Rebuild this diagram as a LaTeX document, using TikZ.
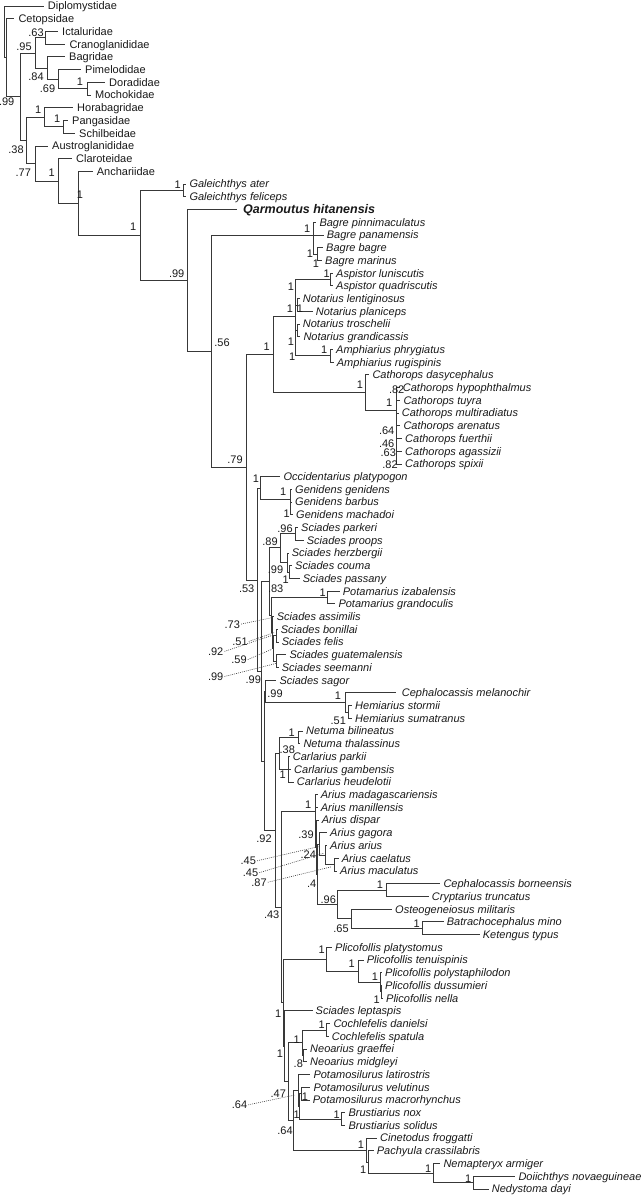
\documentclass[tikz,border=0pt]{standalone}
\usepackage{fontspec}
\setmainfont{Liberation Sans}
\newcommand\tleaf[5][3]{%
  \coordinate (#2) at ({#4-#1},#3);
  \node[lf] (#2t) at (#4,#3) {#5};}
\newcommand\inode[3]{\coordinate (#1) at (#2,#3);}
\newcommand\kids[2]{\foreach \kk in {#2}{\draw[br] (#1) |- (\kk);}}
\begin{document}
\begin{tikzpicture}[x=1pt,y=-1pt,
  br/.style={draw=black!78, line width=0.8pt},
  lf/.style={anchor=base west, inner sep=0pt, yshift=-3.9pt, font=\fontsize{11}{13}\selectfont\itshape, text=black!90},
  bval/.style={font=\fontsize{11}{13}\selectfont, inner sep=0pt, text=black!90},
  dotl/.style={draw=black!75, line width=0.6pt, dash pattern=on 0.9pt off 1.1pt, shorten <=1pt}]
\path[use as bounding box] (0,0) rectangle (643,1199);
\begin{scope}[y=-12.72pt, yshift=-6pt]
% ---------- leaves ----------
\tleaf[4]{t0}{0}{47.7}{\upshape Diplomystidae}
\tleaf[4]{t1}{1}{18.3}{\upshape Cetopsidae}
\tleaf[4]{t2}{2}{62}{\upshape Ictaluridae}
\tleaf[4]{t3}{3}{69.3}{\upshape Cranoglanididae}
\tleaf[4]{t4}{4}{69}{\upshape Bagridae}
\tleaf[4]{t5}{5}{85}{\upshape Pimelodidae}
\tleaf[4]{t6}{6}{109}{\upshape Doradidae}
\tleaf[4]{t7}{7}{95}{\upshape Mochokidae}
\tleaf[4]{t8}{8}{77}{\upshape Horabagridae}
\tleaf[4]{t9}{9}{72}{\upshape Pangasidae}
\tleaf[4]{t10}{10}{79}{\upshape Schilbeidae}
\tleaf[4]{t11}{11}{52}{\upshape Austroglanididae}
\tleaf[4]{t12}{12}{76}{\upshape Claroteidae}
\tleaf[4]{t13}{13}{96.7}{\upshape Anchariidae}
\tleaf{t14}{14}{189.3}{Galeichthys ater}
\tleaf{t15}{15}{189.3}{Galeichthys feliceps}
\tleaf[6]{t16}{16}{243}{\bfseries\fontsize{12.5}{14}\selectfont Qarmoutus hitanensis}
\tleaf{t17}{17}{319.3}{Bagre pinnimaculatus}
\tleaf{t18}{18}{326.7}{Bagre panamensis}
\tleaf{t19}{19}{326}{Bagre bagre}
\tleaf{t20}{20}{325}{Bagre marinus}
\tleaf{t21}{21}{336}{Aspistor luniscutis}
\tleaf{t22}{22}{336}{Aspistor quadriscutis}
\tleaf{t23}{23}{302.7}{Notarius lentiginosus}
\tleaf{t24}{24}{315.7}{Notarius planiceps}
\tleaf{t25}{25}{302.7}{Notarius troschelii}
\tleaf{t26}{26}{303.3}{Notarius grandicassis}
\tleaf{t27}{27}{336}{Amphiarius phrygiatus}
\tleaf{t28}{28}{336.7}{Amphiarius rugispinis}
\tleaf{t29}{29}{372.3}{Cathorops dasycephalus}
\tleaf{t30}{30}{402.7}{Cathorops hypophthalmus}
\tleaf{t31}{31}{403.3}{Cathorops tuyra}
\tleaf{t32}{32}{401.7}{Cathorops multiradiatus}
\tleaf{t33}{33}{403.3}{Cathorops arenatus}
\tleaf{t34}{34}{405}{Cathorops fuerthii}
\tleaf{t35}{35}{405}{Cathorops agassizii}
\tleaf{t36}{36}{405}{Cathorops spixii}
\tleaf{t37}{37}{283.3}{Occidentarius platypogon}
\tleaf{t38}{38}{295}{Genidens genidens}
\tleaf{t39}{39}{295}{Genidens barbus}
\tleaf{t40}{40}{296}{Genidens machadoi}
\tleaf{t41}{41}{301}{Sciades parkeri}
\tleaf{t42}{42}{306.7}{Sciades proops}
\tleaf{t43}{43}{291.7}{Sciades herzbergii}
\tleaf{t44}{44}{295}{Sciades couma}
\tleaf{t45}{45}{302.7}{Sciades passany}
\tleaf{t46}{46}{342.7}{Potamarius izabalensis}
\tleaf{t47}{47}{338.3}{Potamarius grandoculis}
\tleaf[2.5]{t48}{48}{276.7}{Sciades assimilis}
\tleaf{t49}{49}{280.7}{Sciades bonillai}
\tleaf{t50}{50}{281.7}{Sciades felis}
\tleaf{t51}{51}{289.3}{Sciades guatemalensis}
\tleaf{t52}{52}{281.7}{Sciades seemanni}
\tleaf{t53}{53}{279.3}{Sciades sagor}
\tleaf[5.7]{t54}{54}{401.7}{Cephalocassis melanochir}
\tleaf{t55}{55}{355}{Hemiarius stormii}
\tleaf{t56}{56}{355}{Hemiarius sumatranus}
\tleaf{t57}{57}{306}{Netuma bilineatus}
\tleaf{t58}{58}{303.3}{Netuma thalassinus}
\tleaf{t59}{59}{292.7}{Carlarius parkii}
\tleaf{t60}{60}{294}{Carlarius gambensis}
\tleaf{t61}{61}{296.7}{Carlarius heudelotii}
\tleaf{t62}{62}{320.7}{Arius madagascariensis}
\tleaf{t63}{63}{320.7}{Arius manillensis}
\tleaf{t64}{64}{321.7}{Arius dispar}
\tleaf{t65}{65}{330}{Arius gagora}
\tleaf{t66}{66}{330}{Arius arius}
\tleaf{t67}{67}{341.7}{Arius caelatus}
\tleaf{t68}{68}{340}{Arius maculatus}
\tleaf{t69}{69}{443.3}{Cephalocassis borneensis}
\tleaf{t70}{70}{431.7}{Cryptarius truncatus}
\tleaf{t71}{71}{395}{Osteogeneiosus militaris}
\tleaf{t72}{72}{446.7}{Batrachocephalus mino}
\tleaf{t73}{73}{482.7}{Ketengus typus}
\tleaf{t74}{74}{335}{Plicofollis platystomus}
\tleaf{t75}{75}{366.7}{Plicofollis tenuispinis}
\tleaf{t76}{76}{385}{Plicofollis polystaphilodon}
\tleaf{t77}{77}{385}{Plicofollis dussumieri}
\tleaf{t78}{78}{386}{Plicofollis nella}
\tleaf{t79}{79}{315.5}{Sciades leptaspis}
\tleaf{t80}{80}{333.3}{Cochlefelis danielsi}
\tleaf{t81}{81}{331.7}{Cochlefelis spatula}
\tleaf{t82}{82}{310}{Neoarius graeffei}
\tleaf{t83}{83}{310}{Neoarius midgleyi}
\tleaf{t84}{84}{313.3}{Potamosilurus latirostris}
\tleaf{t85}{85}{313.3}{Potamosilurus velutinus}
\tleaf{t86}{86}{312.7}{Potamosilurus macrorhynchus}
\tleaf{t87}{87}{348.3}{Brustiarius nox}
\tleaf{t88}{88}{348.3}{Brustiarius solidus}
\tleaf{t89}{89}{380}{Cinetodus froggatti}
\tleaf{t90}{90}{376.7}{Pachyula crassilabris}
\tleaf{t91}{91}{443.3}{Nemapteryx armiger}
\tleaf{t92}{92}{518.3}{Doiichthys novaeguineae}
\tleaf{t93}{93}{491.7}{Nedystoma dayi}
% ---------- internal nodes ----------
\inode{R0}{4.5}{2.03}
\inode{F0}{6.5}{4.06}
\inode{F1}{20}{7.12}
\inode{N95}{35}{3.6875}
\inode{Ict}{45.7}{2.5}
\inode{Bag}{47}{4.875}
\inode{Pim}{58}{5.75}
\inode{DM}{87}{6.5}
\inode{N38}{26}{10.56}
\inode{Hora}{44}{8.75}
\inode{PS}{63}{9.5}
\inode{N77}{35}{12.38}
\inode{Clar}{58}{13.76}
\inode{Anch}{78}{15.5}
\inode{Ari}{140}{18.03}
\inode{Gal}{183.3}{14.5}
\inode{N99a}{187.3}{21.56}
\inode{N56}{211.7}{27.12}
\inode{B0}{313.3}{18}
\inode{B1}{317.3}{19.5}
\inode{N79}{246.7}{36.26}
\inode{NC}{273.3}{27.39}
\inode{N0}{295.7}{24.4}
\inode{Asp}{330}{21.5}
\inode{N1}{297.2}{23.5}
\inode{N2}{297.2}{25.5}
\inode{Amph}{330}{27.5}
\inode{C0}{365.7}{30.38}
\inode{C1}{396}{31.76}
\inode{N53}{257.3}{45.12}
\inode{O}{260.7}{37.9}
\inode{Gen}{290}{38.8}
\inode{Z}{261.7}{52.34}
\inode{S1}{269.5}{45.24}
\inode{S2}{280.7}{42.6}
\inode{PP}{295.7}{41.5}
\inode{HCP}{287.3}{43.75}
\inode{CP2}{289}{44.5}
\inode{S4}{271.3}{47.875}
\inode{Pot}{327.3}{46.5}
\inode{S5}{272.3}{49.25}
\inode{S6}{273.2}{50.5}
\inode{BF}{276}{49.5}
\inode{GS}{276.7}{51.5}
\inode{W}{264}{59.37}
\inode{SG}{265.5}{53.875}
\inode{CH}{345}{54.75}
\inode{Hem}{348.3}{55.5}
\inode{N92}{275}{64.79}
\inode{N38b}{279.3}{58.75}
\inode{Net}{298.3}{57.5}
\inode{Carl}{288.3}{60}
\inode{N43}{281.7}{70.83}
\inode{A}{315}{63.29}
\inode{B}{315.8}{64.57}
\inode{C}{316.6}{66.14}
\inode{D}{317.5}{68.28}
\inode{G}{319.5}{65.875}
\inode{AC}{325.5}{66.75}
\inode{CM}{334}{67.5}
\inode{N96}{337}{70.65}
\inode{CC}{386.7}{69.5}
\inode{Ost}{351.7}{71.75}
\inode{BK}{422.7}{72.5}
\inode{L}{283.3}{78.36}
\inode{P}{326.7}{74.94}
\inode{T}{358.3}{75.875}
\inode{PDN}{380}{76.75}
\inode{DN2}{381}{77.5}
\inode{M}{284.3}{81.78}
\inode{R}{288.3}{84.55}
\inode{CN}{302.7}{81.5}
\inode{Coch}{326.7}{80.5}
\inode{Neo}{303.7}{82.5}
\inode{Q}{293.3}{87.6}
\inode{PB}{298.3}{85.25}
\inode{V}{299.5}{86.5}
\inode{VM}{301.7}{85.5}
\inode{Brus}{341.7}{87.5}
\inode{Cin}{366.7}{89.94}
\inode{X2}{368.3}{90.875}
\inode{Nema}{433.3}{91.75}
\inode{DNy}{473.3}{92.5}
% ---------- branches ----------
\kids{R0}{t0,F0}
\kids{F0}{t1,F1}
\kids{F1}{N95,N38}
\kids{N95}{Ict,Bag}
\kids{Ict}{t2,t3}
\kids{Bag}{t4,Pim}
\kids{Pim}{t5,DM}
\kids{DM}{t6,t7}
\kids{N38}{Hora,N77}
\kids{Hora}{t8,PS}
\kids{PS}{t9,t10}
\kids{N77}{t11,Clar}
\kids{Clar}{t12,Anch}
\kids{Anch}{t13,Ari}
\kids{Ari}{Gal,N99a}
\kids{Gal}{t14,t15}
\kids{N99a}{t16,N56}
\kids{N56}{B0,N79}
\kids{B0}{t17,t18,B1}
\kids{B1}{t19,t20}
\kids{N79}{NC,N53}
\kids{NC}{N0,C0}
\kids{N0}{Asp,N1,N2,Amph}
\kids{Asp}{t21,t22}
\kids{N1}{t23,t24}
\kids{N2}{t25,t26}
\kids{Amph}{t27,t28}
\kids{C0}{t29,C1}
\kids{C1}{t30,t31,t32,t33,t34,t35,t36}
\kids{N53}{O,Z}
\kids{O}{t37,Gen}
\kids{Gen}{t38,t39,t40}
\kids{Z}{S1,W}
\kids{S1}{S2,S4}
\kids{S2}{PP,HCP}
\kids{PP}{t41,t42}
\kids{HCP}{t43,CP2}
\kids{CP2}{t44,t45}
\kids{S4}{Pot,S5}
\kids{Pot}{t46,t47}
\kids{S5}{t48,S6}
\kids{S6}{BF,GS}
\kids{BF}{t49,t50}
\kids{GS}{t51,t52}
\kids{W}{SG,N92}
\kids{SG}{t53,CH}
\kids{CH}{t54,Hem}
\kids{Hem}{t55,t56}
\kids{N92}{N38b,N43}
\kids{N38b}{Net,Carl}
\kids{Net}{t57,t58}
\kids{Carl}{t59,t60,t61}
\kids{N43}{A,L}
\kids{A}{t62,B}
\kids{B}{t63,C}
\kids{C}{t64,D}
\kids{D}{G,N96}
\kids{G}{t65,AC}
\kids{AC}{t66,CM}
\kids{CM}{t67,t68}
\kids{N96}{CC,Ost}
\kids{CC}{t69,t70}
\kids{Ost}{t71,BK}
\kids{BK}{t72,t73}
\kids{L}{P,M}
\kids{P}{t74,T}
\kids{T}{t75,PDN}
\kids{PDN}{t76,DN2}
\kids{DN2}{t77,t78}
\kids{M}{t79,R}
\kids{R}{CN,Q}
\kids{CN}{Coch,Neo}
\kids{Coch}{t80,t81}
\kids{Neo}{t82,t83}
\kids{Q}{PB,Cin}
\kids{PB}{t84,V}
\kids{V}{VM,Brus}
\kids{VM}{t85,t86}
\kids{Brus}{t87,t88}
\kids{Cin}{t89,X2}
\kids{X2}{t90,Nema}
\kids{Nema}{t91,DNy}
\kids{DNy}{t92,t93}
\end{scope}
% ---------- support values ----------
\node[bval] (b1) at (36,32.7) {.63};
\node[bval] (b2) at (24,46.7) {.95};
\node[bval] (b3) at (36,76.7) {.84};
\node[bval] (b4) at (47.5,88.3) {.69};
\node[bval] (b5) at (80,81.7) {1};
\node[bval] (b6) at (6.7,101.7) {.99};
\node[bval] (b7) at (38.3,109.3) {1};
\node[bval] (b8) at (57.3,119) {1};
\node[bval] (b9) at (16,150) {.38};
\node[bval] (b10) at (23.3,172.3) {.77};
\node[bval] (b11) at (51.7,172.3) {1};
\node[bval] (b12) at (80,194.3) {1};
\node[bval] (b13) at (133.3,226.7) {1};
\node[bval] (b14) at (177.7,185) {1};
\node[bval] (b15) at (176.7,273.3) {.99};
\node[bval] (b16) at (222,343) {.56};
\node[bval] (b17) at (307.3,228.3) {1};
\node[bval] (b18) at (310,253.3) {1};
\node[bval] (b19) at (316,264) {1};
\node[bval] (b20) at (326.7,274) {1};
\node[bval] (b21) at (291,286.7) {1};
\node[bval] (b22) at (290,308.3) {1};
\node[bval] (b23) at (300,308.3) {1};
\node[bval] (b24) at (266.7,346.7) {1};
\node[bval] (b25) at (291,341.7) {1};
\node[bval] (b26) at (324.3,349.3) {1};
\node[bval] (b27) at (292.3,356.7) {1};
\node[bval] (b28) at (360,384.5) {1};
\node[bval] (b29) at (396.7,389.3) {.82};
\node[bval] (b30) at (389.3,402.7) {1};
\node[bval] (b31) at (386.7,430.7) {.64};
\node[bval] (b32) at (386.7,443.3) {.46};
\node[bval] (b33) at (388.3,452.3) {.63};
\node[bval] (b34) at (390,465) {.82};
\node[bval] (b35) at (235,460) {.79};
\node[bval] (b36) at (256,478.3) {1};
\node[bval] (b37) at (283.3,491.7) {1};
\node[bval] (b38) at (286.7,513.3) {1};
\node[bval] (b39) at (285,528.3) {.96};
\node[bval] (b40) at (270,541.7) {.89};
\node[bval] (b41) at (275.5,569.5) {.99};
\node[bval] (b42) at (285.8,579.5) {1};
\node[bval] (b43) at (246.7,588.3) {.53};
\node[bval] (b44) at (275.7,588.3) {.83};
\node[bval] (b45) at (322.7,592.7) {1};
\node[bval] (b46) at (232.3,624.3) {.73};
\node[bval] (b47) at (240,641.7) {.51};
\node[bval] (b48) at (215.7,651.7) {.92};
\node[bval] (b49) at (239,660) {.59};
\node[bval] (b50) at (215.7,676.7) {.99};
\node[bval] (b51) at (253.3,680) {.99};
\node[bval] (b52) at (275,694) {.99};
\node[bval] (b53) at (338,695.5) {1};
\node[bval] (b54) at (338.3,720.7) {.51};
\node[bval] (b55) at (291.7,732.7) {1};
\node[bval] (b56) at (287.3,750) {.38};
\node[bval] (b57) at (282.7,775) {1};
\node[bval] (b58) at (308.3,805) {1};
\node[bval] (b59) at (264,838.3) {.92};
\node[bval] (b60) at (306,834.5) {.39};
\node[bval] (b61) at (308.3,855) {.24};
\node[bval] (b62) at (248.3,861) {.45};
\node[bval] (b63) at (250.5,873) {.45};
\node[bval] (b64) at (259,882.5) {.87};
\node[bval] (b65) at (311.7,883.3) {.4};
\node[bval] (b66) at (380,885) {1};
\node[bval] (b67) at (328.3,900) {.96};
\node[bval] (b68) at (271.7,915) {.43};
\node[bval] (b69) at (341,929) {.65};
\node[bval] (b70) at (416.7,923.3) {1};
\node[bval] (b71) at (321.7,950) {1};
\node[bval] (b72) at (351.7,963.3) {1};
\node[bval] (b73) at (375,976.7) {1};
\node[bval] (b74) at (376.7,1000) {1};
\node[bval] (b75) at (278.3,1013.3) {1};
\node[bval] (b76) at (321.7,1025) {1};
\node[bval] (b77) at (296.7,1040) {1};
\node[bval] (b78) at (280,1053.3) {1};
\node[bval] (b79) at (298.3,1063.3) {.8};
\node[bval] (b80) at (278.3,1093.3) {.47};
\node[bval] (b81) at (239.5,1105) {.64};
\node[bval] (b82) at (305,1096.7) {1};
\node[bval] (b83) at (296.7,1115) {1};
\node[bval] (b84) at (336.7,1115) {1};
\node[bval] (b85) at (285,1131) {.64};
\node[bval] (b86) at (361,1145) {1};
\node[bval] (b87) at (363.3,1170) {1};
\node[bval] (b88) at (428.3,1168.3) {1};
\node[bval] (b89) at (468.3,1179) {1};
% ---------- dotted leaders ----------
\coordinate (d46) at (271.7,617.7);
\coordinate (d47) at (274,632.7);
\coordinate (d48) at (273.3,635);
\coordinate (d49) at (271.7,649.3);
\coordinate (d50) at (276.7,663.3);
\coordinate (d62) at (318.3,846.7);
\coordinate (d63) at (323.3,853.3);
\coordinate (d64) at (331.7,866.7);
\coordinate (d81) at (295,1095);
\draw[dotl] (b46.east) -- (d46);
\draw[dotl] (b47.east) -- (d47);
\draw[dotl] (b48.east) -- (d48);
\draw[dotl] (b49.east) -- (d49);
\draw[dotl] (b50.east) -- (d50);
\draw[dotl] (b62.east) -- (d62);
\draw[dotl] (b63.east) -- (d63);
\draw[dotl] (b64.east) -- (d64);
\draw[dotl] (b81.east) -- (d81);
\end{tikzpicture}
\end{document}
